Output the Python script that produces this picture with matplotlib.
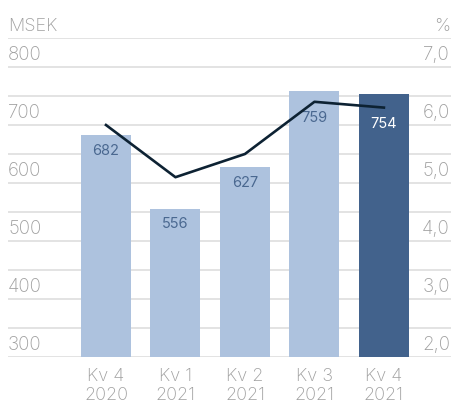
import numpy as np
import matplotlib.pyplot as plt
from matplotlib import transforms

plt.rcParams['font.family'] = ['Inter', 'DejaVu Sans']
plt.rcParams['font.weight'] = 'light'

quarters = ["Kv 4\n2020", "Kv 1\n2021", "Kv 2\n2021", "Kv 3\n2021", "Kv 4\n2021"]
sales = [682, 556, 627, 759, 754]          # MSEK (bars)
margin = [6.0, 5.1, 5.5, 6.4, 6.3]          # % (line)
left_ticks = [300, 400, 500, 600, 700, 800]
right_ticks = ["2,0", "3,0", "4,0", "5,0", "6,0", "7,0"]

light = "#adc2de"
dark = "#42628c"
grey = "#9f9f9f"

fig = plt.figure(figsize=(4.52, 4.04), dpi=100)
ax = fig.add_axes([8 / 452, 47 / 404, 444 / 452, 319 / 404])
ax2 = ax.twinx()

x = np.arange(len(quarters))
colors = [light] * (len(x) - 1) + [dark]

# grid every 50 MSEK
for g in range(300, 851, 50):
    ax.axhline(g, color="#e0e0e0", lw=1.3, zorder=0)

ax.bar(x, [s - 300 for s in sales], bottom=300, width=0.72, color=colors, zorder=2)
ax.set_ylim(300, 850)
ax.set_xlim(-1.41, 4.98)

# % axis: 7,0 lines up with 800, 2,0 with 300
ax2.set_ylim(2.0, 7.5)
ax2.plot(x, margin, color="#0d2233", lw=1.9, zorder=3)

# value labels inside bars, kept under the line
for i, s in enumerate(sales):
    top = min(s, margin[i] * 100 + 100)
    ax.annotate(str(s), (x[i], top), xytext=(0, -11.5), textcoords="offset points",
                ha="center", va="center", fontsize=10.5, fontweight="normal",
                color="white" if i == len(x) - 1 else "#4a6890", zorder=4)

# tick labels sitting above the grid lines
left_tr = transforms.blended_transform_factory(ax.transAxes, ax.transData)
for v, r in zip(left_ticks, right_ticks):
    ax.annotate(str(v), (0, v), xycoords=left_tr, xytext=(0, 2.5),
                textcoords="offset points", ha="left", va="bottom",
                fontsize=13.5, color=grey)
    ax.annotate(r, (1, v), xycoords=left_tr, xytext=(-1.5, 2.5),
                textcoords="offset points", ha="right", va="bottom",
                fontsize=13.5, color=grey)
ax.annotate("MSEK", (0, 850), xycoords=left_tr, xytext=(0, 2.5),
            textcoords="offset points", ha="left", va="bottom",
            fontsize=13, color=grey)
ax.annotate("%", (1, 850), xycoords=left_tr, xytext=(-1.5, 2.5),
            textcoords="offset points", ha="right", va="bottom",
            fontsize=13, color=grey)

ax.set_xticks(x)
ax.set_xticklabels(quarters, fontsize=13, color=grey, linespacing=1.15)
ax.tick_params(axis="x", length=0, pad=8)
ax.set_yticks([])
ax2.set_yticks([])
for a in (ax, ax2):
    for sp in a.spines.values():
        sp.set_visible(False)

fig.savefig("out.png", dpi=100)
